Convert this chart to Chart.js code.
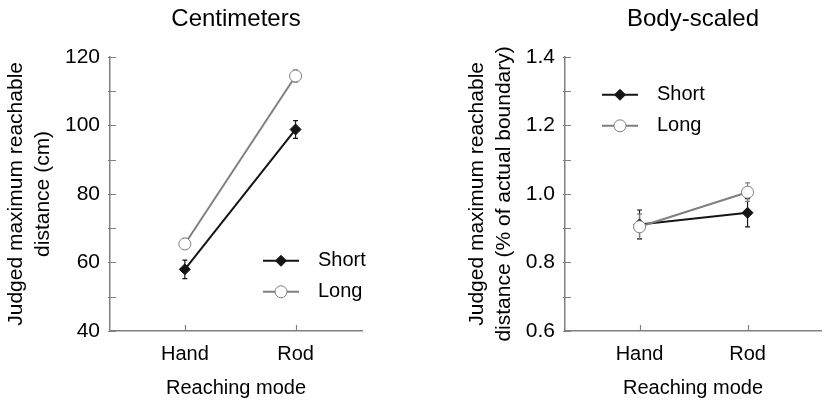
<!DOCTYPE html>
<html>
<head>
<title>Judged maximum reachable distance</title>
<script src="https://cdn.jsdelivr.net/npm/chart.js"></script>
<style>
    body { margin: 0; background: #fff; }
    #wrap { position: relative; width: 828px; height: 407px; }
    canvas { position: absolute; top: 0; }
    #cmChart { left: 0; }
    #bodyChart { left: 414px; }
</style>
</head>
<body>
<div id="wrap">
    <canvas id="cmChart" width="414" height="407"></canvas>
    <canvas id="bodyChart" width="414" height="407"></canvas>
</div>
<script>
const categories = ['Hand', 'Rod'];
const seriesNames = ['Short', 'Long'];

// Centimeters panel
const shortCm = [58.0, 98.8];
const shortCmErr = [2.7, 2.6];
const longCm = [65.4, 114.4];
const longCmErr = [1.6, 1.8];

// Body-scaled panel
const shortBody = [0.911, 0.945];
const shortBodyErr = [0.042, 0.041];
const longBody = [0.904, 1.005];
const longBodyErr = [0.037, 0.027];

const AXIS = '#808080';
const SHORT_COL = '#151515';
const LONG_COL = '#7f7f7f';

Chart.defaults.font.family = "'Liberation Sans', Arial, sans-serif";
Chart.defaults.color = '#000';

function toPoints(values) {
    return values.map((v, i) => ({ x: i + 1, y: v }));
}

// error bars drawn underneath the markers
const errorBars = {
    id: 'errorBars',
    beforeDatasetsDraw(chart) {
        const ctx = chart.ctx;
        const xs = chart.scales.x, ys = chart.scales.y;
        chart.data.datasets.forEach(ds => {
            ctx.save();
            ctx.strokeStyle = ds.borderColor;
            ctx.lineWidth = 1.2;
            ds.data.forEach((p, i) => {
                const e = ds.errors[i];
                const x = xs.getPixelForValue(p.x);
                const y1 = ys.getPixelForValue(p.y + e);
                const y2 = ys.getPixelForValue(p.y - e);
                ctx.beginPath();
                ctx.moveTo(x, y1); ctx.lineTo(x, y2);
                ctx.moveTo(x - 2.5, y1); ctx.lineTo(x + 2.5, y1);
                ctx.moveTo(x - 2.5, y2); ctx.lineTo(x + 2.5, y2);
                ctx.stroke();
            });
            ctx.restore();
        });
    }
};

// small tick marks pointing into the plot
const innerTicks = {
    id: 'innerTicks',
    afterDraw(chart) {
        const ctx = chart.ctx;
        const area = chart.chartArea;
        const xs = chart.scales.x, ys = chart.scales.y;
        ctx.save();
        ctx.strokeStyle = AXIS;
        ctx.lineWidth = 1.2;
        ctx.beginPath();
        ys.ticks.forEach(t => {
            const y = Math.round(ys.getPixelForValue(t.value)) + 0.5;
            ctx.moveTo(area.left - 2, y);
            ctx.lineTo(area.left + 6, y);
        });
        xs.ticks.forEach(t => {
            const x = Math.round(xs.getPixelForValue(t.value)) + 0.5;
            ctx.moveTo(x, area.bottom);
            ctx.lineTo(x, area.bottom - 6);
        });
        ctx.stroke();
        ctx.restore();
    }
};

// legend with line + marker sample
const sampleLegend = {
    id: 'sampleLegend',
    afterDraw(chart, args, opts) {
        const ctx = chart.ctx;
        const area = chart.chartArea;
        ctx.save();
        ctx.font = "20px 'Liberation Sans', Arial, sans-serif";
        ctx.textBaseline = 'middle';
        chart.data.datasets.forEach((ds, i) => {
            const x0 = area.left + opts.x;
            const y = area.top + opts.y + i * 31;
            ctx.strokeStyle = ds.borderColor;
            ctx.lineWidth = 2;
            ctx.beginPath();
            ctx.moveTo(x0, y); ctx.lineTo(x0 + 36, y);
            ctx.stroke();
            ctx.fillStyle = ds.pointBackgroundColor;
            ctx.strokeStyle = ds.pointBorderColor;
            ctx.lineWidth = ds.pointBorderWidth;
            Chart.helpers.drawPoint(ctx, {
                pointStyle: ds.pointStyle,
                radius: ds.pointRadius,
                borderWidth: ds.pointBorderWidth
            }, x0 + 18, y);
            ctx.fillStyle = '#000';
            ctx.fillText(ds.label, x0 + 55, y);
        });
        ctx.restore();
    }
};

function makeChart(id, cfg) {
    const datasets = [
        {
            label: seriesNames[0], data: toPoints(cfg.short), errors: cfg.shortErr, order: 1,
            borderColor: SHORT_COL, borderWidth: 2,
            pointStyle: 'rectRot', pointRadius: 5.5, pointBorderWidth: 1,
            pointBackgroundColor: SHORT_COL, pointBorderColor: SHORT_COL
        },
        {
            label: seriesNames[1], data: toPoints(cfg.long), errors: cfg.longErr, order: 0,
            borderColor: LONG_COL, borderWidth: 2,
            pointStyle: 'circle', pointRadius: 6, pointBorderWidth: 1,
            pointBackgroundColor: '#fff', pointBorderColor: LONG_COL
        }
    ];
    return new Chart(document.getElementById(id), {
        type: 'line',
        data: { datasets },
        options: {
            responsive: false,
            animation: false,
            layout: { padding: { left: 0, right: cfg.padRight, top: 0, bottom: 0 } },
            plugins: {
                legend: { display: false },
                tooltip: { enabled: false },
                title: {
                    display: true, text: cfg.title, fullSize: false,
                    font: { size: 24, weight: 'normal' }, color: '#000',
                    padding: { top: 5, bottom: 23 }
                },
                sampleLegend: cfg.legend
            },
            scales: {
                x: {
                    type: 'linear', min: cfg.xMin, max: cfg.xMax,
                    afterBuildTicks: s => { s.ticks = categories.map((c, i) => ({ value: i + 1 })); },
                    afterFit: s => { s.height = 76; },
                    ticks: {
                        callback: v => categories[v - 1] || '',
                        font: { size: 20 }, color: '#000', padding: 11, maxRotation: 0
                    },
                    grid: { display: false, drawTicks: false },
                    border: { display: true, color: AXIS, width: 1.5 },
                    title: {
                        display: true, text: 'Reaching mode',
                        font: { size: 20 }, color: '#000', padding: { top: 0, bottom: 7 }
                    }
                },
                y: {
                    min: cfg.yMin, max: cfg.yMax,
                    afterFit: s => { s.width = cfg.yWidth; },
                    ticks: {
                        stepSize: cfg.step,
                        callback: cfg.label,
                        font: { size: 21 }, color: '#000', padding: 10
                    },
                    grid: { display: false, drawTicks: false },
                    border: { display: true, color: AXIS, width: 1.5 },
                    title: {
                        display: true, text: cfg.yTitle,
                        font: { size: 21, lineHeight: 1.31 }, color: '#000',
                        padding: { top: cfg.yTitlePad, bottom: 0 }
                    }
                }
            }
        },
        plugins: [errorBars, innerTicks, sampleLegend]
    });
}

makeChart('cmChart', {
    title: 'Centimeters',
    short: shortCm, shortErr: shortCmErr, long: longCm, longErr: longCmErr,
    yMin: 40, yMax: 120, step: 10,
    label: v => (Math.round(v) % 20 === 0 ? v : ''),
    yTitle: ['Judged maximum reachable', 'distance (cm)'],
    yWidth: 110, yTitlePad: 2, padRight: 52,
    xMin: 0.324, xMax: 2.6,
    legend: { x: 153, y: 204 }
});

makeChart('bodyChart', {
    title: 'Body-scaled',
    short: shortBody, shortErr: shortBodyErr, long: longBody, longErr: longBodyErr,
    yMin: 0.6, yMax: 1.4, step: 0.1,
    label: v => (Math.round(v * 10) % 2 === 0 ? v.toFixed(1) : ''),
    yTitle: ['Judged maximum reachable', 'distance (% of actual boundary)'],
    yWidth: 151, yTitlePad: 49, padRight: 0,
    xMin: 0.31, xMax: 2.68,
    legend: { x: 37, y: 38 }
});
</script>
</body>
</html>
